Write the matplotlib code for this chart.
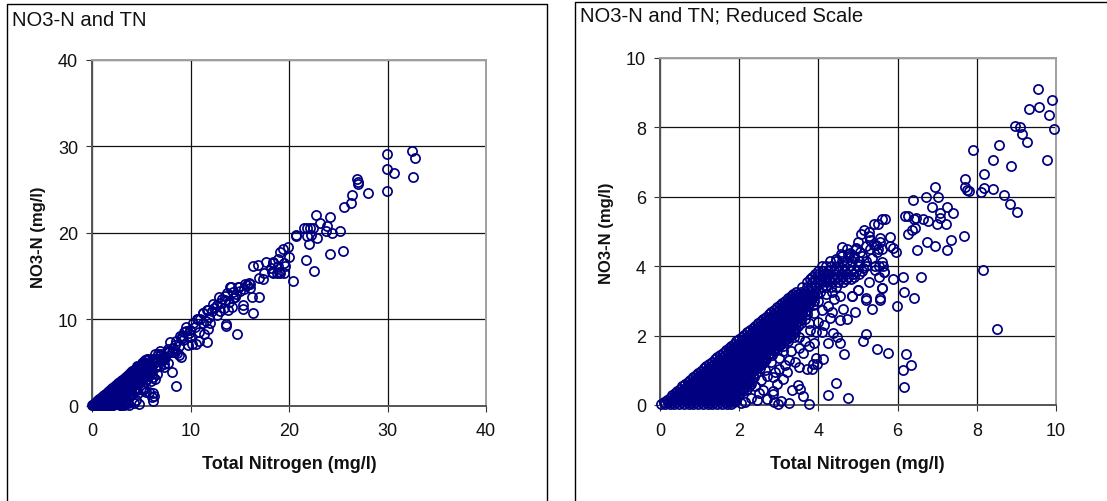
import numpy as np
import matplotlib
matplotlib.use('Agg')
from matplotlib import pyplot as plt
from matplotlib.lines import Line2D

plt.rcParams['font.family'] = ['Liberation Sans', 'DejaVu Sans']

W, H = 1107, 502

# dense part of the cloud, read row by row: NO3-N level and the TN values on it
no3_levels = [0.02, 0.15, 0.28, 0.41, 0.54, 0.67, 0.8, 0.93, 1.06, 1.19, 1.32, 1.45, 1.58,
              1.71, 1.84, 1.97, 2.1, 2.23, 2.36, 2.49, 2.62, 2.75, 2.88, 3.01, 3.14, 3.27,
              3.55, 3.7, 3.85, 4.0, 4.15, 4.3, 4.5]
tn_rows = [
  [.02, .12, .24, .36, .48, .6, .72, .84, .96, 1.08, 1.2, 1.32, 1.44, 1.56, 1.68, 1.8],
  [.17, .27, .39, .5, .63, .75, .87, .98, 1.11, 1.23, 1.35, 1.47, 1.59, 1.71, 1.83, 1.93],
  [.3, .41, .53, .66, .77, .89, 1.02, 1.14, 1.26, 1.38, 1.5, 1.62, 1.74, 1.86, 1.98],
  [.43, .55, .67, .79, .92, 1.03, 1.16, 1.28, 1.4, 1.52, 1.64, 1.76, 1.88, 2.0, 2.1],
  [.56, .68, .8, .93, 1.05, 1.17, 1.29, 1.42, 1.54, 1.66, 1.78, 1.9, 2.02, 2.14, 2.24],
  [.7, .82, .94, 1.06, 1.18, 1.31, 1.43, 1.55, 1.67, 1.79, 1.91, 2.03, 2.15, 2.27],
  [.83, .95, 1.07, 1.2, 1.32, 1.44, 1.56, 1.68, 1.8, 1.92, 2.04, 2.16, 2.28, 2.38],
  [.97, 1.09, 1.21, 1.33, 1.45, 1.57, 1.7, 1.82, 1.94, 2.06, 2.18, 2.3, 2.42],
  [1.1, 1.22, 1.34, 1.46, 1.58, 1.7, 1.83, 1.95, 2.07, 2.19, 2.31, 2.43, 2.53],
  [1.24, 1.36, 1.48, 1.6, 1.72, 1.84, 1.96, 2.08, 2.2, 2.32, 2.44, 2.56],
  [1.38, 1.5, 1.62, 1.74, 1.86, 1.98, 2.1, 2.22, 2.34, 2.46, 2.58, 2.68],
  [1.52, 1.64, 1.76, 1.88, 2.0, 2.12, 2.24, 2.36, 2.48, 2.6, 2.72, 2.82],
  [1.66, 1.78, 1.9, 2.02, 2.14, 2.26, 2.38, 2.5, 2.62, 2.74, 2.86, 2.96],
  [1.8, 1.92, 2.04, 2.16, 2.28, 2.4, 2.52, 2.64, 2.76, 2.88, 3.0, 3.1],
  [1.93, 2.05, 2.17, 2.29, 2.41, 2.53, 2.65, 2.77, 2.89, 3.01, 3.13, 3.24],
  [2.07, 2.19, 2.31, 2.43, 2.55, 2.67, 2.79, 2.91, 3.03, 3.15, 3.27, 3.38],
  [2.2, 2.32, 2.44, 2.56, 2.68, 2.8, 2.92, 3.04, 3.16, 3.28, 3.4],
  [2.34, 2.46, 2.58, 2.7, 2.82, 2.94, 3.06, 3.18, 3.3, 3.42],
  [2.48, 2.6, 2.72, 2.84, 2.96, 3.08, 3.2, 3.32, 3.44, 3.56],
  [2.6, 2.72, 2.84, 2.96, 3.08, 3.2, 3.32, 3.44, 3.56, 3.66],
  [2.74, 2.86, 2.98, 3.1, 3.22, 3.34, 3.46, 3.58, 3.7],
  [2.88, 3.0, 3.12, 3.24, 3.36, 3.48, 3.6, 3.72],
  [3.02, 3.14, 3.26, 3.38, 3.5, 3.62, 3.74, 3.86],
  [3.15, 3.27, 3.39, 3.51, 3.63, 3.75, 3.88],
  [3.3, 3.42, 3.54, 3.66, 3.78, 3.9],
  [3.43, 3.55, 3.67, 3.79, 3.92, 4.05],
  [3.72, 3.85, 3.98, 4.1, 4.22, 4.35, 4.5, 4.62],
  [3.85, 3.96, 4.08, 4.2, 4.34, 4.47, 4.6, 4.75, 4.9],
  [4.0, 4.12, 4.25, 4.4, 4.52, 4.66, 4.82, 4.95, 5.1],
  [4.1, 4.2, 4.32, 4.5, 4.65, 4.8, 5.0, 5.2, 5.42, 5.52, 5.62],
  [4.3, 4.45, 4.6, 4.72, 4.85, 5.02],
  [4.6, 4.78, 4.9, 5.1],
  [4.72, 4.96, 5.3, 5.5, 5.6],
]

# more of the same cloud, on the levels in between
no3_levels2 = [0.08, 0.21, 0.34, 0.47, 0.6, 0.73, 0.86, 0.99, 1.12, 1.25, 1.38, 1.51, 1.64,
               1.77, 1.9, 2.03, 2.16, 2.29, 2.42, 2.55, 2.68, 2.81, 2.94, 3.07, 3.2, 3.4,
               3.62, 3.78]
tn_rows2 = [
  [.09, .2, .31, .44, .55, .68, .79, .91, 1.03, 1.15, 1.27, 1.39, 1.52, 1.63, 1.76, 1.87],
  [.24, .35, .46, .58, .7, .81, .93, 1.05, 1.17, 1.29, 1.41, 1.53, 1.65, 1.77, 1.89],
  [.37, .47, .6, .72, .83, .96, 1.08, 1.2, 1.32, 1.44, 1.56, 1.68, 1.8, 1.92, 2.03],
  [.5, .61, .73, .86, .98, 1.1, 1.22, 1.34, 1.46, 1.58, 1.7, 1.82, 1.94, 2.06],
  [.63, .75, .87, 1.0, 1.12, 1.24, 1.36, 1.48, 1.6, 1.72, 1.84, 1.96, 2.08, 2.2],
  [.76, .88, 1.01, 1.13, 1.25, 1.37, 1.49, 1.61, 1.73, 1.85, 1.97, 2.09, 2.21],
  [.9, 1.02, 1.14, 1.26, 1.38, 1.5, 1.62, 1.75, 1.87, 1.99, 2.11, 2.23, 2.34],
  [1.03, 1.15, 1.27, 1.39, 1.51, 1.63, 1.76, 1.88, 2.0, 2.12, 2.24, 2.36],
  [1.17, 1.29, 1.41, 1.53, 1.65, 1.77, 1.89, 2.01, 2.13, 2.25, 2.37, 2.49],
  [1.31, 1.43, 1.55, 1.67, 1.79, 1.91, 2.03, 2.15, 2.27, 2.39, 2.51, 2.62],
  [1.45, 1.57, 1.69, 1.81, 1.93, 2.05, 2.17, 2.29, 2.41, 2.53, 2.65],
  [1.59, 1.71, 1.83, 1.95, 2.07, 2.19, 2.31, 2.43, 2.55, 2.67, 2.79],
  [1.73, 1.85, 1.97, 2.09, 2.21, 2.33, 2.45, 2.57, 2.69, 2.81, 2.93],
  [1.86, 1.98, 2.1, 2.22, 2.34, 2.46, 2.58, 2.7, 2.82, 2.94, 3.06],
  [2.0, 2.12, 2.24, 2.36, 2.48, 2.6, 2.72, 2.84, 2.96, 3.08, 3.2],
  [2.13, 2.25, 2.37, 2.49, 2.61, 2.73, 2.85, 2.97, 3.09, 3.21, 3.33],
  [2.27, 2.39, 2.51, 2.63, 2.75, 2.87, 2.99, 3.11, 3.23, 3.35],
  [2.41, 2.53, 2.65, 2.77, 2.89, 3.01, 3.13, 3.25, 3.37, 3.48],
  [2.54, 2.66, 2.78, 2.9, 3.02, 3.14, 3.26, 3.38, 3.5],
  [2.67, 2.79, 2.91, 3.03, 3.15, 3.27, 3.39, 3.51],
  [2.81, 2.93, 3.05, 3.17, 3.29, 3.41, 3.53, 3.65],
  [2.95, 3.07, 3.19, 3.31, 3.43, 3.55, 3.67],
  [3.08, 3.2, 3.32, 3.44, 3.56, 3.68, 3.8],
  [3.22, 3.34, 3.46, 3.58, 3.7, 3.82],
  [3.36, 3.48, 3.6, 3.72, 3.84, 3.97],
  [3.58, 3.7, 3.82, 3.95, 4.08, 4.2, 4.32, 4.44],
  [3.8, 3.92, 4.04, 4.16, 4.28, 4.42, 4.55, 4.7, 4.82],
  [3.92, 4.02, 4.15, 4.28, 4.42, 4.56, 4.7, 4.88, 5.02],
]

# scattered points below the main band, under 10 mg/l
tn_low = [4.76, 4.23, 4.44, 3.75, 3.26, 3.62, 3.54, 3.49, 3.34, 3.06, 2.99, 2.86, 2.88, 2.69,
          5.48, 5.77, 5.13, 5.2, 4.64, 4.55, 4.23, 4.46, 4.38, 4.11, 3.96, 3.87,
          6.21, 6.34, 6.13, 6.17, 5.98, 5.36, 4.92, 4.71, 4.55, 4.63, 4.34,
          5.56, 5.2, 4.84, 6.41, 6.17, 5.61, 5.0, 5.29, 5.88, 6.14, 6.58, 5.53, 5.65,
          2.5, 2.3, 2.15, 2.05, 2.2, 2.4, 2.6, 2.45, 2.3, 2.55, 2.7, 2.65, 2.85, 2.9, 3.0, 3.15,
          2.6, 2.8, 3.0, 3.25, 3.4, 3.5, 3.7, 3.85, 3.95, 3.1, 3.3, 3.5, 3.6, 3.75, 3.9, 3.65,
          3.5, 3.8, 3.95, 4.1, 3.75, 4.0, 4.15, 4.3, 3.9, 4.1, 4.25, 4.0, 4.4, 4.55, 4.35, 4.2,
          2.85, 2.95, 3.1, 3.2]
no3_low = [0.2, 0.3, 0.63, 0.03, 0.07, 0.26, 0.45, 0.59, 0.44, 0.12, 0.02, 0.32, 0.08, 0.17,
           1.6, 1.51, 1.83, 2.06, 1.47, 1.79, 1.79, 1.97, 2.07, 1.33, 1.19, 1.19,
           1.46, 1.14, 1.0, 0.53, 2.86, 2.77, 2.67, 2.49, 2.44, 2.77, 2.67,
           3.04, 3.04, 3.13, 3.09, 3.27, 3.36, 3.32, 3.55, 3.64, 3.69, 3.69, 3.69, 3.82,
           .35, .2, .1, .05, .45, .55, .42, .15, .6, .72, .85, 1.0, .8, .95, 1.05, 1.15,
           1.2, 1.25, 1.35, 1.3, 1.25, 1.1, 1.05, 1.05, 1.35, 1.55, 1.55, 1.65, 1.5, 1.7, 1.8, 1.85,
           1.95, 2.15, 2.1, 2.1, 2.35, 2.4, 2.3, 2.5, 2.65, 2.75, 2.85, 3.0, 3.05, 3.15, 3.25, 3.2,
           .4, .6, .75, .95]

# sparse upper part of the band, under 10 mg/l
tn_upper = [9.54, 9.91, 9.58, 9.33, 9.82, 9.94, 8.97, 9.10, 9.13, 9.26, 9.78, 8.57, 8.40, 8.86,
            7.91, 8.19, 7.71, 7.71, 7.74, 7.80, 8.19, 8.10, 8.40, 8.68, 8.85, 9.01, 8.15, 8.5,
            6.94, 6.71, 7.03, 6.38, 6.87, 7.26, 7.07, 7.39, 7.07, 6.63, 6.78, 6.99, 7.23, 6.46,
            6.41, 6.19, 6.27, 6.44, 6.36, 6.25, 7.68, 7.35, 6.75, 6.94, 6.5, 7.26,
            5.69, 5.6, 5.51, 5.4, 5.15, 5.07, 5.28, 5.28, 5.81, 5.56, 5.56, 5.4, 5.2, 4.96,
            5.81, 5.88, 5.97, 5.48, 4.8, 4.57, 5.6, 5.66, 5.61, 5.01, 5.56, 5.2, 4.84,
            4.9, 5.05, 5.2, 5.35, 5.45, 5.3, 5.0, 4.75, 4.6, 5.12, 5.42, 4.45, 4.7]
no3_upper = [9.10, 8.78, 8.59, 8.54, 8.36, 7.94, 8.03, 8.00, 7.80, 7.57, 7.06, 7.48, 7.06, 6.88,
             7.34, 6.65, 6.50, 6.27, 6.21, 6.17, 6.24, 6.15, 6.23, 6.06, 5.79, 5.56, 3.89, 2.2,
             6.27, 6.0, 6.0, 5.91, 5.72, 5.72, 5.54, 5.54, 5.40, 5.35, 5.31, 5.21, 5.21, 5.39,
             5.35, 5.44, 5.44, 5.09, 5.03, 4.93, 4.88, 4.75, 4.70, 4.57, 4.47, 4.47,
             5.35, 5.35, 5.21, 5.21, 5.03, 4.93, 4.98, 4.88, 4.85, 4.80, 4.70, 4.62, 4.57, 4.52,
             4.57, 4.52, 4.42, 4.42, 4.38, 4.34, 4.11, 3.82, 3.36, 3.32, 3.09, 3.09, 3.13,
             4.25, 4.4, 4.15, 4.25, 4.6, 4.75, 4.7, 4.35, 4.55, 3.95, 3.9, 4.22, 3.62]

# only on the full scale chart
tn_high = [29.98, 32.45, 32.8, 29.98, 30.66, 32.6, 29.98, 26.9, 27.0, 26.97, 28.05, 26.43, 26.26,
           25.6, 22.7, 24.16, 23.18, 23.86, 21.5, 21.8, 22.13, 22.4, 23.76, 24.33, 25.15, 20.74,
           20.74, 21.8, 22.2, 22.87, 22.06, 20.03, 19.93, 19.43, 19.1, 18.9, 18.34, 19.5, 19.6,
           18.9, 18.17, 19.5, 19.1, 18.8, 18.34, 20.4, 21.73, 24.16, 25.48, 22.54,
           16.31, 16.85, 17.46, 16.92, 17.4, 17.66, 18.4, 18.3, 19.0, 15.9, 15.57, 16.04, 14.92,
           14.0, 14.35, 12.9, 16.2, 17.0, 14.52, 13.5, 12.3, 14.25, 15.3, 15.36, 16.38, 11.8, 11.3,
           14.72, 13.57, 13.57, 10.69, 10.73, 10.56, 10.9, 11.64, 10.87, 11.37, 11.8, 10.12,
           11.3, 11.64, 12.66, 13.8, 14.1, 14.85, 16.04, 10.3, 10.5, 11.0, 11.3, 11.6, 11.9, 12.0,
           12.2, 12.4, 12.7, 13.0, 13.2, 13.5, 13.7, 13.0, 13.4, 13.9, 14.3, 14.6, 15.0, 15.4, 15.7]
no3_high = [29.1, 29.5, 28.7, 27.4, 26.86, 26.47, 24.8, 26.28, 25.85, 25.7, 24.65, 24.4, 23.5,
            22.95, 22.0, 21.8, 21.1, 20.74, 20.55, 20.55, 20.55, 20.55, 20.15, 19.96, 20.15, 19.77,
            19.6, 19.6, 19.77, 19.42, 18.7, 17.2, 18.3, 18.14, 17.8, 17.0, 16.6, 16.47, 16.1,
            16.1, 15.9, 15.35, 15.35, 15.35, 15.35, 14.42, 16.82, 17.56, 17.94, 15.54,
            16.1, 16.3, 15.3, 14.73, 14.6, 16.66, 16.47, 15.4, 15.5, 14.15, 14.07, 13.57, 13.69,
            13.69, 13.17, 12.6, 12.52, 12.52, 12.52, 12.2, 11.8, 11.35, 11.63, 11.16, 10.7, 11.05, 10.66,
            8.26, 9.22, 9.4, 9.96, 10.0, 7.1, 7.5, 7.3, 8.5, 8.3, 8.88, 7.1,
            10.66, 11.05, 10.5, 11.0, 13.7, 13.7, 14.1, 9.6, 9.1, 10.0, 9.5, 9.8, 10.3, 9.6,
            10.9, 11.3, 11.6, 11.9, 12.3, 12.7, 13.0, 10.9, 11.3, 12.0, 12.4, 12.9, 13.2, 13.5, 13.9]

xlabel = 'Total Nitrogen (mg/l)'
ylabel = 'NO3-N (mg/l)'
navy = '#000080'

def px_axes(fig, l, r, t, b):
  return fig.add_axes([l / W, 1 - b / H, (r - l) / W, (b - t) / H])

def frame(fig, xs, ys):
  fig.add_artist(Line2D(np.array(xs) / W, 1 - np.array(ys) / H, color='black', linewidth=1.0))

def panel(ax, x, y, lim, step):
  ax.plot(x, y, 'o', ms=6.6, mfc='none', mec=navy, mew=1.25, clip_on=False, zorder=3)
  ax.set_xlim(0, lim)
  ax.set_ylim(0, lim)
  ax.set_xticks(np.arange(0, lim + step, step))
  ax.set_yticks(np.arange(0, lim + step, step))
  ax.grid(True, color='#111111', linewidth=0.9)
  ax.set_axisbelow(True)
  ax.tick_params(labelsize=13, length=4, width=0.8, color='#333333', labelcolor='#111111')
  ax.tick_params(axis='x', pad=8)
  ax.tick_params(axis='y', pad=6)
  for s in ['left', 'bottom']:
    ax.spines[s].set_color('#555555')
    ax.spines[s].set_linewidth(1.4)
  for s in ['top', 'right']:
    ax.spines[s].set_color('#a0a0a0')
    ax.spines[s].set_linewidth(1.4)

tn_core = [v for row in tn_rows + tn_rows2 for v in row]
no3_core = [lev for lev, row in zip(no3_levels + no3_levels2, tn_rows + tn_rows2) for v in row]
tn_small = tn_core + tn_low + tn_upper
no3_small = no3_core + no3_low + no3_upper

fig = plt.figure(figsize=(W / 100, H / 100), dpi=100, facecolor='white')

frame(fig, [7, 7, 547, 547], [502, 5, 5, 502])
frame(fig, [574.5, 574.5, 1107], [502, 3, 3])

ax1 = px_axes(fig, 92, 486, 61, 406.5)
panel(ax1, tn_small + tn_high, no3_small + no3_high, 40, 10)
ax2 = px_axes(fig, 660, 1056, 59, 406)
panel(ax2, tn_small, no3_small, 10, 2)

fig.text(12 / W, 1 - 20 / H, 'NO3-N and TN', fontsize=14.6, va='center', color='#111111')
fig.text(580 / W, 1 - 16 / H, 'NO3-N and TN; Reduced Scale', fontsize=14.6, va='center', color='#111111')
for cx, cy in [(289, 465), (857, 465)]:
  fig.text(cx / W, 1 - cy / H, xlabel, fontsize=13, fontweight='bold', ha='center', va='center', color='#111111')
for cx, cy in [(39, 237), (606, 233)]:
  fig.text(cx / W, 1 - cy / H, ylabel, fontsize=12, fontweight='bold', rotation=90, ha='center', va='center', color='#111111')

fig.savefig('out.png', dpi=100)
